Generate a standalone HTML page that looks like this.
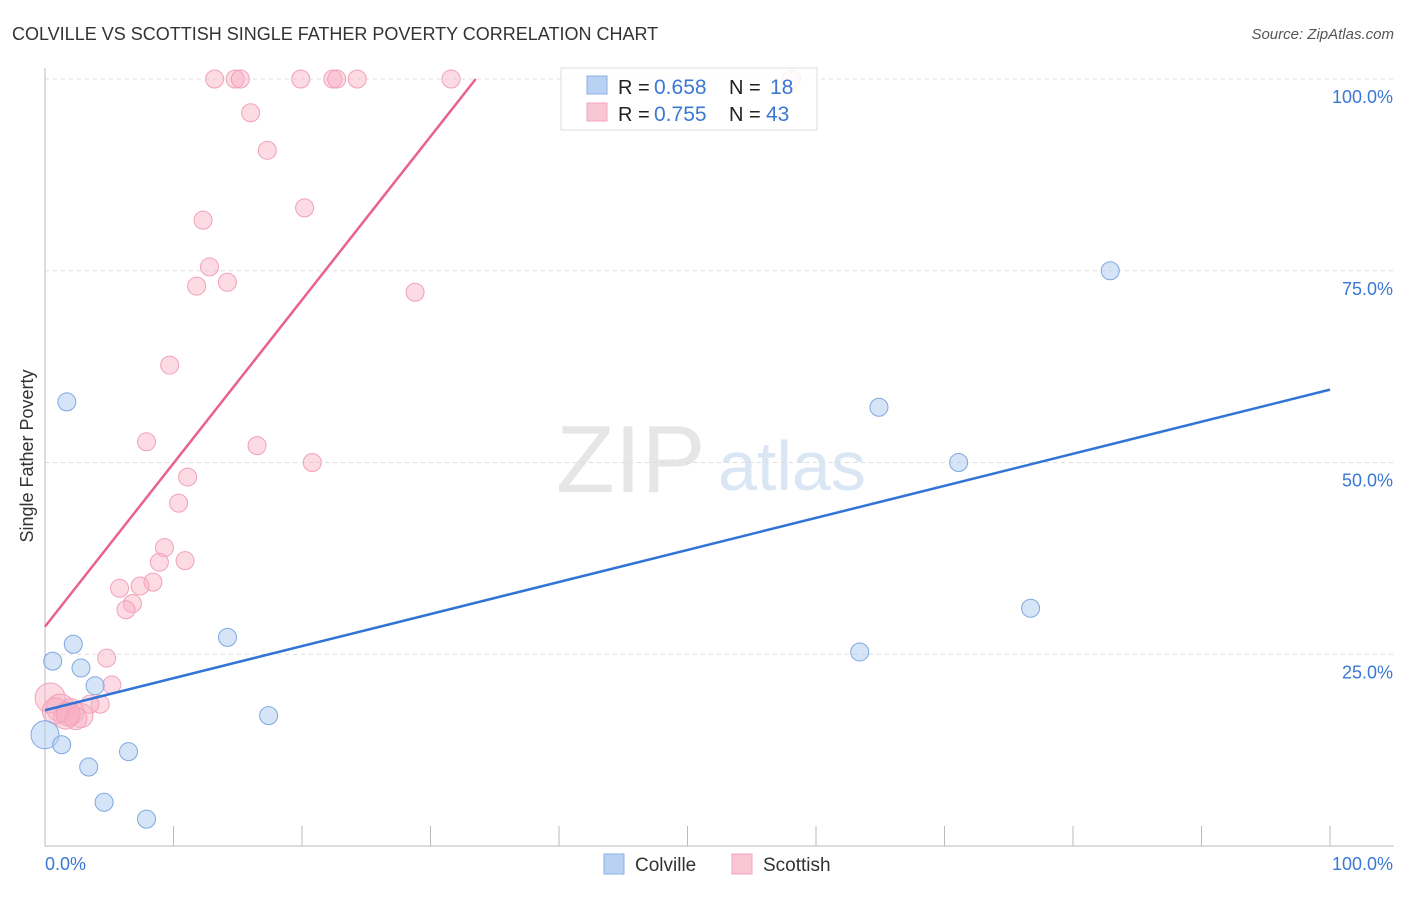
<!DOCTYPE html>
<html><head><meta charset="utf-8"><style>
body{margin:0;background:#fff;font-family:"Liberation Sans",sans-serif}
svg text{font-family:"Liberation Sans",sans-serif}
</style></head><body>
<svg id="chart" width="1406" height="892">
<text x="12" y="40" font-size="18" fill="#333">COLVILLE VS SCOTTISH SINGLE FATHER POVERTY CORRELATION CHART</text>
<text x="1394" y="39" font-size="15" fill="#555" text-anchor="end" font-style="italic">Source: ZipAtlas.com</text>
<text x="33" y="456" font-size="18" fill="#333" text-anchor="middle" transform="rotate(-90 33 456)">Single Father Poverty</text>
<text x="556" y="492" font-size="96" fill="#e6e6e6" font-family="Liberation Serif">ZIP</text>
<text x="718" y="490" font-size="70" fill="#dbe6f5">atlas</text>
<g id="grid"></g><g id="axes"></g><g id="pts"></g><g id="lines"></g>
<g>
<rect x="561" y="68" width="256" height="62" fill="rgba(255,255,255,0.85)" stroke="#ddd"/>
<rect x="587" y="76" width="20" height="18" fill="#b9d1f3" stroke="#8ab0e6"/>
<text x="618" y="94" font-size="20" fill="#222">R =</text>
<text x="654" y="94" font-size="21" fill="#3a78d4">0.658</text>
<text x="729" y="94" font-size="20" fill="#222">N =</text>
<text x="770" y="94" font-size="21" fill="#3a78d4">18</text>
<rect x="587" y="103" width="20" height="18" fill="#f9c6d5" stroke="#f0a5bb"/>
<text x="618" y="121" font-size="20" fill="#222">R =</text>
<text x="654" y="121" font-size="21" fill="#3a78d4">0.755</text>
<text x="729" y="121" font-size="20" fill="#222">N =</text>
<text x="766" y="121" font-size="21" fill="#3a78d4">43</text>
</g>
<g>
<rect x="604" y="854" width="20" height="20" fill="#b9d1f3" stroke="#8ab0e6"/>
<text x="635" y="871" font-size="19" fill="#333">Colville</text>
<rect x="732" y="854" width="20" height="20" fill="#f9c6d5" stroke="#f0a5bb"/>
<text x="763" y="871" font-size="19" fill="#333">Scottish</text>
</g>
</svg>
<script>
const yTicks=[25,50,75,100];
const yTickLabels=["25.0%","50.0%","75.0%","100.0%"];
const blueX=[1.7,0.6,2.2,2.8,3.9,0,1.3,3.4,4.6,7.9,6.5,14.2,17.4,63.4,64.9,71.1,76.7,82.9];
const blueY=[57.9,24.1,26.3,23.2,20.9,14.5,13.2,10.3,5.7,3.5,12.3,27.2,17,25.3,57.2,50,31,75];
const blueR=[9,9,9,9,9,14,9,9,9,9,9,9,9,9,9,9,9,9];
const pinkX=[13.2,14.8,15.2,19.9,22.4,22.7,24.3,31.6,58.1,16,17.3,12.3,20.2,12.8,11.8,14.2,28.8,9.7,7.9,16.5,20.8,11.1,10.4,9.3,8.9,10.9,8.4,7.4,5.8,6.8,6.3,4.8,5.2,4.3,3.5,0.4,1.2,2,2.8,1.6,2.4,0.8,1.8];
const pinkY=[100,100,100,100,100,100,100,100,100,95.6,90.7,81.6,83.2,75.5,73,73.5,72.2,62.7,52.7,52.2,50,48.1,44.7,38.9,37,37.2,34.4,33.9,33.6,31.6,30.8,24.5,21,18.5,18.5,19.3,18,17.5,17,16.8,16.6,17.6,17.2];
const pinkR=[9,9,9,9,9,9,9,9,9,9,9,9,9,9,9,9,9,9,9,9,9,9,9,9,9,9,9,9,9,9,9,9,9,9,9,15,14,13,12,12,11,13,12];
const blueLine=[17.7,59.5];
const pinkLine=[28.6,2.13];
const NS="http://www.w3.org/2000/svg";
const X=v=>45+v*12.85, Y=v=>846-v*7.67;
function mk(p,t,a){const e=document.createElementNS(NS,t);for(const k in a)e.setAttribute(k,a[k]);document.getElementById(p).appendChild(e);return e;}
yTicks.forEach((t,i)=>{
 const l=mk('grid','line',{x1:45,x2:1394,y1:Y(t),y2:Y(t),stroke:'#ddd','stroke-dasharray':'4,4'});
 
 
 const tx=mk('grid','text',{x:1393,y:Y(t)+24,'font-size':18,fill:'#3a78d4','text-anchor':'end'});tx.textContent=yTickLabels[i];
 
 
});
mk('axes','line',{x1:45,x2:45,y1:68,y2:846,stroke:'#bbb'});
mk('axes','line',{x1:45,x2:1394,y1:846,y2:846,stroke:'#bbb'});
for(let i=1;i<=10;i++){const x=X(i*10);mk('axes','line',{x1:x,x2:x,y1:826,y2:846,stroke:'#bbb'});}
let t=mk('axes','text',{x:45,y:870,'font-size':18,fill:'#3a78d4'});t.textContent='0.0%';


t=mk('axes','text',{x:1393,y:870,'font-size':18,fill:'#3a78d4','text-anchor':'end'});t.textContent='100.0%';


pinkX.forEach((v,i)=>{const c=mk('pts','circle',{cx:X(v),cy:Y(pinkY[i]),r:pinkR[i],fill:'rgba(248,175,197,0.45)',stroke:'#f2a0b8','stroke-width':1});
 
 });
blueX.forEach((v,i)=>{const c=mk('pts','circle',{cx:X(v),cy:Y(blueY[i]),r:blueR[i],fill:'rgba(180,206,242,0.55)',stroke:'#7ea8e0','stroke-width':1});
 
 });
let l=mk('lines','line',{x1:X(0),y1:Y(blueLine[0]),x2:X(100),y2:Y(blueLine[1]),stroke:'#2f74d6','stroke-width':2.5});


const px=(100-pinkLine[0])/pinkLine[1];
l=mk('lines','line',{x1:X(0),y1:Y(pinkLine[0]),x2:X(px),y2:Y(100),stroke:'#e8628c','stroke-width':2.5});


</script>
</body></html>
